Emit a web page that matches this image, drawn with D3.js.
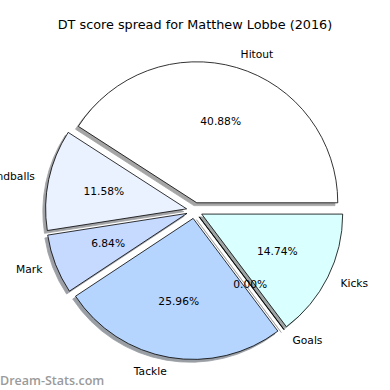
<!DOCTYPE html>
<html>
<head>
<meta charset="utf-8">
<script src="https://cdn.jsdelivr.net/npm/d3@7"></script>
<style>
  body { margin: 0; background: #fff; }
  text { font-family: "DejaVu Sans", sans-serif; }
</style>
</head>
<body>
<div id="chart"></div>
<script>
// DT score spread, percent of total
const categories = ["Hitout", "Handballs", "Mark", "Tackle", "Goals", "Kicks"];
const shares = [40.88, 11.58, 6.84, 25.96, 0.00, 14.74];
const colors = ["#ffffff", "#eaf1ff", "#c6d9ff", "#b5d5ff", "#ffffff", "#d9ffff"];

const width = 390;
const height = 390;
const cx = 194.5, cy = 210.5;
const radius = 141;
const explode = 0.057;

const svg = d3.select("#chart")
    .append("svg")
    .attr("width", width)
    .attr("height", height);

svg.append("text")
    .attr("x", width / 2)
    .attr("y", 24)
    .attr("text-anchor", "middle")
    .attr("dominant-baseline", "central")
    .style("font-size", "12.8px")
    .text("DT score spread for Matthew Lobbe (2016)");

const data = categories.map((c, i) => ({ name: c, value: shares[i], color: colors[i] }));

// counter-clockwise from 3 o'clock, like matplotlib
const pie = d3.pie()
    .value(d => d.value)
    .sortValues(null)
    .startAngle(Math.PI / 2)
    .endAngle(Math.PI / 2 - 2 * Math.PI);

const arcs = pie(data);
const arc = d3.arc().innerRadius(0).outerRadius(radius);

const dir = a => [Math.sin(a), -Math.cos(a)];

arcs.forEach(d => {
    const mid = (d.startAngle + d.endAngle) / 2;
    const [ux, uy] = dir(mid);
    d.ux = ux;
    d.uy = uy;
    d.ox = cx + ux * explode * radius;
    d.oy = cy + uy * explode * radius;
});

const shadowOff = 0.02 * radius;

svg.append("g").selectAll("path")
    .data(arcs)
    .enter().append("path")
    .attr("transform", d => `translate(${d.ox - shadowOff},${d.oy + shadowOff})`)
    .attr("d", arc)
    .attr("fill", d => {
        const c = d3.rgb(d.data.color);
        return d3.rgb(c.r * 0.3, c.g * 0.3, c.b * 0.3);
    })
    .attr("stroke", d => {
        const c = d3.rgb(d.data.color);
        return d3.rgb(c.r * 0.3, c.g * 0.3, c.b * 0.3);
    })
    .attr("stroke-width", 0.8)
    .attr("opacity", 0.5);

svg.append("g").selectAll("path")
    .data(arcs)
    .enter().append("path")
    .attr("transform", d => `translate(${d.ox},${d.oy})`)
    .attr("d", arc)
    .attr("fill", d => d.data.color)
    .attr("stroke", "#000")
    .attr("stroke-width", 0.8)
    .attr("stroke-linejoin", "miter");

svg.append("g").selectAll("text")
    .data(arcs)
    .enter().append("text")
    .attr("x", d => d.ox + d.ux * 1.1 * radius)
    .attr("y", d => d.oy + d.uy * 1.1 * radius)
    .attr("text-anchor", d => d.ux > 0 ? "start" : "end")
    .attr("dominant-baseline", "central")
    .style("font-size", "10.7px")
    .text(d => d.data.name);

svg.append("g").selectAll("text")
    .data(arcs)
    .enter().append("text")
    .attr("x", d => d.ox + d.ux * 0.6 * radius)
    .attr("y", d => d.oy + d.uy * 0.6 * radius)
    .attr("text-anchor", "middle")
    .attr("dominant-baseline", "central")
    .style("font-size", "10.7px")
    .text(d => d.data.value.toFixed(2) + "%");

svg.append("text")
    .attr("x", 0)
    .attr("y", 380)
    .attr("dominant-baseline", "central")
    .attr("fill", "#9a9a9a")
    .style("font-family", "'Open Sans', sans-serif")
    .style("font-size", "12.5px")
    .style("font-weight", "600")
    .text("Dream-Stats.com");
</script>
</body>
</html>
